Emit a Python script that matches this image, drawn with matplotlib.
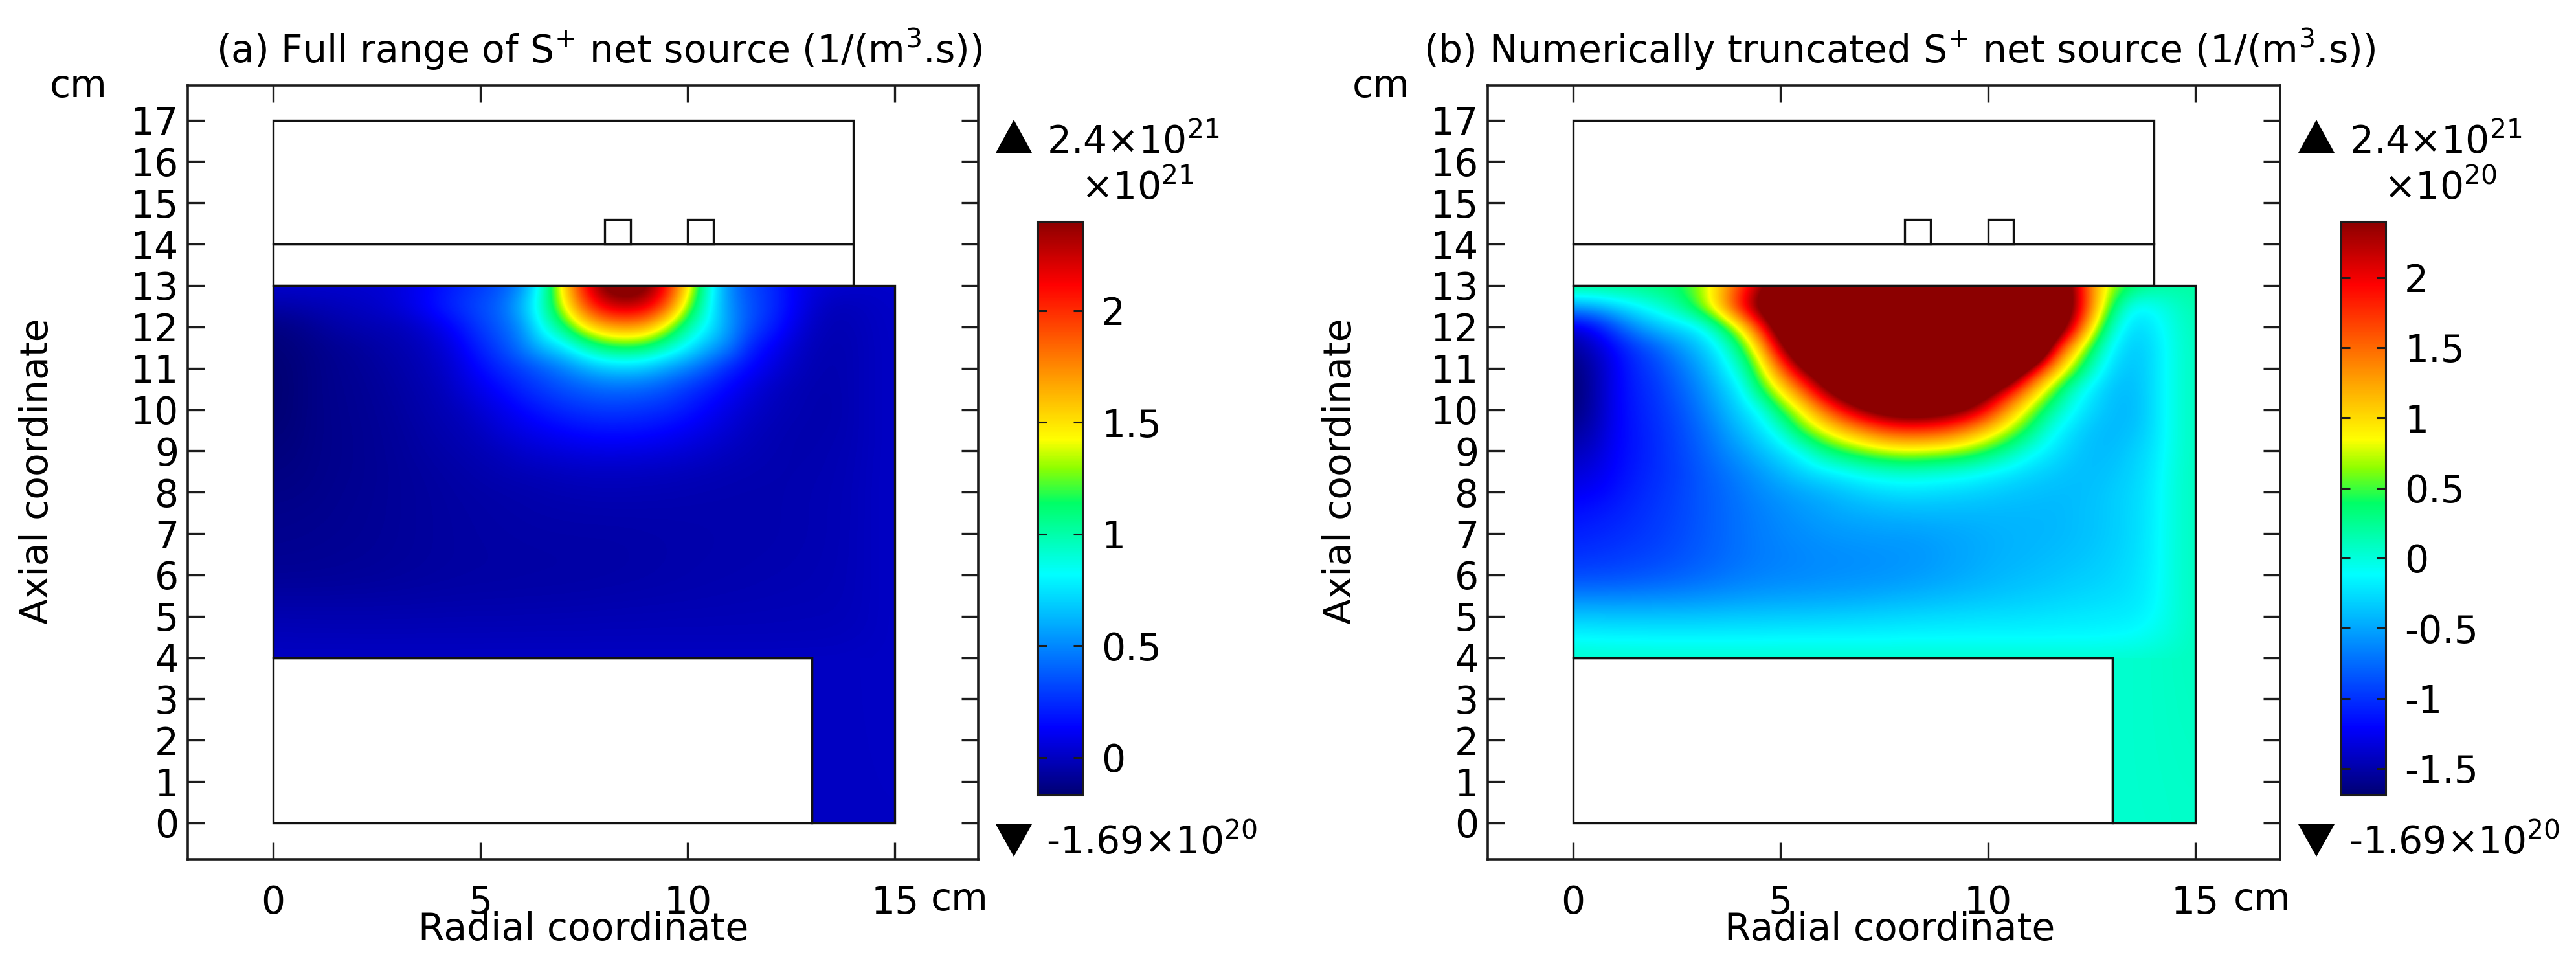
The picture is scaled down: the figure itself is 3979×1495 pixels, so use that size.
import numpy as np
import matplotlib
matplotlib.use("Agg")
import matplotlib.pyplot as plt
from matplotlib.colors import LinearSegmentedColormap, Normalize
from matplotlib.cm import ScalarMappable
from matplotlib.patches import Rectangle, Polygon

W, H = 3979, 1495
plt.rcParams['font.family'] = ['DejaVu Sans']
plt.rcParams['mathtext.default'] = 'regular'
plt.rcParams['mathtext.fontset'] = 'dejavusans'

# Field, units of 1e20 1/(m^3 s).
# Columns: r = 0, 0.5, ... 15 cm. Rows: z = 13, 12.5, ... 4 cm.
r_values = [i * 0.5 for i in range(31)]
z_values = [13 - i * 0.5 for i in range(19)]
z13_0 = [.3,.3,.3,.3,.35,.4,.6,1,1.6,2.2,2.8,3.5,5,9,15,21,25,26,25,21,15,9,5,3.2,2.5,1.3,.7,.4,.25,.2,.2]
z12_5 = [-.5,-.45,-.3,-.15,0,.2,.55,1.1,1.9,2.7,3.4,4.2,6.5,9.5,14,19,22,23,22,19,13,8.5,5.2,3.6,2.6,1.4,.4,-.15,-.1,.05,.15]
z12_0 = [-1.35,-1.2,-.9,-.6,-.4,-.28,-.18,.2,.8,1.7,2.9,3.8,5.2,8.6,11,14.5,16.5,17,16.5,13.5,10,8,5.5,3.4,2.2,.95,.05,-.28,-.2,0,.12]
z11_5 = [-1.55,-1.4,-1.2,-.98,-.82,-.6,-.4,-.16,.3,1.05,2.2,3.2,4.7,6.4,7.5,9.5,11,11.5,11,9.5,7.9,6,4.7,2.2,1.2,.4,-.16,-.35,-.25,-.02,.1]
z11_0 = [-1.65,-1.5,-1.25,-1.05,-.92,-.75,-.55,-.3,.05,.65,1.5,2.35,3,3.8,4.7,5.8,6.6,6.8,6.5,5.6,4.7,3.6,2.2,1.4,.7,.1,-.28,-.38,-.25,-.02,.1]
z10_5 = [-1.69,-1.5,-1.25,-1.08,-.98,-.82,-.65,-.42,-.2,.4,.9,1.5,2.3,2.9,3.4,3.8,4.1,4.1,3.9,3.4,2.7,2,1.3,.65,.1,-.2,-.38,-.4,-.25,-.02,.1]
z10_0 = [-1.65,-1.5,-1.25,-1.1,-1,-.88,-.72,-.52,-.3,-.1,.45,.85,1.4,1.95,2.4,2.7,2.85,2.8,2.65,2.4,1.9,1.25,.7,.25,-.08,-.28,-.4,-.42,-.25,-.02,.1]
z9_5 = [-1.55,-1.45,-1.24,-1.12,-1.02,-.92,-.78,-.62,-.42,-.25,0,.5,.8,1.1,1.35,1.6,1.7,1.7,1.6,1.35,1.05,.7,.35,-.05,-.25,-.38,-.42,-.38,-.25,-.02,.1]
z9_0 = [-1.45,-1.38,-1.22,-1.12,-1.03,-.93,-.82,-.68,-.55,-.4,-.25,-.08,.25,.45,.6,.72,.78,.75,.7,.6,.42,.2,-.05,-.2,-.32,-.4,-.4,-.32,-.22,-.02,.1]
z8_5 = [-1.35,-1.3,-1.2,-1.1,-1.02,-.95,-.85,-.75,-.65,-.55,-.42,-.3,-.2,-.13,-.03,.02,.05,.03,0,-.05,-.13,-.2,-.28,-.33,-.38,-.4,-.36,-.3,-.2,0,.1]
z8_0 = [-1.25,-1.22,-1.15,-1.06,-1,-.93,-.85,-.78,-.7,-.62,-.56,-.5,-.45,-.38,-.32,-.28,-.25,-.26,-.28,-.3,-.33,-.36,-.38,-.4,-.4,-.38,-.33,-.28,-.18,0,.1]
z7_5 = [-1.15,-1.12,-1.08,-1.03,-.97,-.92,-.85,-.78,-.72,-.66,-.61,-.56,-.52,-.48,-.46,-.44,-.43,-.42,-.42,-.42,-.42,-.42,-.42,-.42,-.4,-.37,-.33,-.27,-.18,0,.1]
z7_0 = [-1.08,-1.06,-1.03,-.99,-.95,-.9,-.84,-.78,-.72,-.67,-.63,-.6,-.57,-.55,-.54,-.53,-.53,-.52,-.5,-.48,-.46,-.44,-.43,-.42,-.4,-.37,-.33,-.27,-.17,0,.1]
z6_5 = [-1,-.99,-.97,-.94,-.91,-.87,-.82,-.77,-.72,-.68,-.65,-.63,-.61,-.6,-.59,-.58,-.57,-.55,-.52,-.49,-.46,-.44,-.42,-.4,-.38,-.35,-.31,-.26,-.17,0,.1]
z6_0 = [-.9,-.89,-.88,-.86,-.83,-.8,-.76,-.72,-.68,-.65,-.63,-.62,-.6,-.59,-.58,-.57,-.55,-.53,-.5,-.47,-.44,-.41,-.39,-.37,-.34,-.32,-.29,-.24,-.16,0,.1]
z5_5 = [-.65,-.65,-.65,-.64,-.63,-.62,-.6,-.58,-.56,-.54,-.53,-.52,-.51,-.5,-.49,-.47,-.45,-.43,-.41,-.39,-.37,-.35,-.33,-.31,-.29,-.27,-.25,-.22,-.15,0,.1]
z5_0 = [-.35,-.35,-.36,-.36,-.36,-.36,-.36,-.35,-.34,-.34,-.33,-.33,-.32,-.31,-.3,-.29,-.28,-.27,-.26,-.25,-.24,-.24,-.23,-.22,-.21,-.2,-.19,-.18,-.12,0,.1]
z4_5 = [-.12,-.13,-.14,-.14,-.15,-.15,-.15,-.15,-.15,-.15,-.14,-.14,-.14,-.14,-.14,-.14,-.13,-.13,-.13,-.13,-.13,-.13,-.13,-.13,-.13,-.13,-.12,-.1,-.05,.02,.1]
z4_0 = [.05,.05,.05,.05,.05,.05,.05,.05,.05,.05,.05,.05,.05,.05,.05,.05,.05,.05,.05,.05,.05,.05,.05,.05,.05,.05,.05,.05,.06,.08,.1]
main_rows = [z13_0, z12_5, z12_0, z11_5, z11_0, z10_5, z10_0, z9_5, z9_0, z8_5, z8_0,
             z7_5, z7_0, z6_5, z6_0, z5_5, z5_0, z4_5, z4_0]
# Annular leg below z = 4: r = 13 ... 15, z = 4, 2, 0
leg_rows = [[.05,.05,.06,.08,.1], [.05,.05,.06,.07,.08], [.05,.05,.05,.06,.06]]

panel_titles = ['(a) Full range of S$^{+}$ net source (1/(m$^{3}$.s))',
                '(b) Numerically truncated S$^{+}$ net source (1/(m$^{3}$.s))']
range_max = [24.0, 24.0]        # 1e20
range_min = [-1.69, -1.69]      # 1e20
color_max = [24.0, 2.4]
color_min = [-1.69, -1.69]
cbar_scale = ['$\\times$10$^{21}$', '$\\times$10$^{20}$']
cbar_unit = [10.0, 1.0]
cbar_ticks = [[0, .5, 1, 1.5, 2], [-1.5, -1, -.5, 0, .5, 1, 1.5, 2]]
cbar_labels = [['0', '0.5', '1', '1.5', '2'], ['-1.5', '-1', '-0.5', '0', '0.5', '1', '1.5', '2']]
x_ticks = [0, 5, 10, 15]
y_ticks = list(range(18))

# Geometry, cm
box_upper = (0, 14, 14, 3)
box_middle = (0, 13, 14, 1)
box_lower = (0, 0, 13, 4)
coils = [(8.0, 14, 0.62, 0.6), (10.0, 14, 0.62, 0.6)]
outline = [(0, 4), (13, 4), (13, 0), (15, 0), (15, 13), (0, 13)]

rainbow = LinearSegmentedColormap.from_list('rainbow_like', [
    (0.00, (0, 0, .45)), (.117, (0, 0, 1)), (.385, (0, 1, 1)), (.51, (0, 1, .4)),
    (.57, (.55, 1, 0)), (.62, (1, 1, 0)), (.73, (1, .6, 0)), (.89, (1, 0, 0)),
    (1.0, (.55, 0, 0))], N=512)

FS = 42
DARK = '#1c1c1c'
LW = 2.6
fig = plt.figure(figsize=(W / 100, H / 100), dpi=100, facecolor='white')


def fx(p):
    return p / W


def fy(p):
    return 1 - p / H


def box(l, t, r, b):
    return [l / W, 1 - b / H, (r - l) / W, (b - t) / H]


main = np.array(main_rows)
leg = np.array(leg_rows)
panels = [
    dict(ax=(290, 132, 1511, 1327), cb=(1603, 342, 1672, 1228), off=0, title_x=926),
    dict(ax=(2298, 132, 3522, 1327), cb=(3616, 342, 3685, 1228), off=2012, title_x=2934),
]

for i, p in enumerate(panels):
    ax = fig.add_axes(box(*p['ax']))
    l, t, r, b = p['ax']
    x0 = l + 131.7 if i == 0 else 2430
    ax.set_xlim((l - x0) / 64.05, (r - x0) / 64.05)
    ax.set_ylim((1271 - b) / 63.85, (1271 - t) / 63.85)
    ax.set_aspect('auto')
    norm = Normalize(color_min[i], color_max[i])
    dr, dz = 0.25, 0.25
    im = ax.imshow(main, cmap=rainbow, norm=norm, interpolation='bicubic', aspect='auto',
                   extent=(r_values[0] - dr, r_values[-1] + dr, z_values[-1] - dz, z_values[0] + dz))
    im.set_clip_path(Rectangle((0, 4), 15, 9, transform=ax.transData))
    im2 = ax.imshow(leg, cmap=rainbow, norm=norm, interpolation='bicubic', aspect='auto',
                    extent=(12.75, 15.25, -1, 5))
    im2.set_clip_path(Rectangle((13, 0), 2, 4, transform=ax.transData))
    ax.set_xlim((l - x0) / 64.05, (r - x0) / 64.05)
    ax.set_ylim((1271 - b) / 63.85, (1271 - t) / 63.85)

    ax.add_patch(Polygon(outline, closed=True, fill=False, ec='#111111', lw=2.4, zorder=3))
    for rect in [box_upper, box_middle, box_lower] + coils:
        ax.add_patch(Rectangle(rect[:2], rect[2], rect[3], fill=False, ec='#111111', lw=2.4, zorder=3))

    for s in ax.spines.values():
        s.set_linewidth(LW)
        s.set_color(DARK)
    ax.set_xticks(x_ticks)
    ax.set_yticks(y_ticks)
    ax.tick_params(axis='both', which='major', direction='in', length=19, width=2.4, color=DARK,
                   top=True, right=True, labelsize=FS)
    ax.tick_params(axis='x', pad=28)
    ax.tick_params(axis='y', pad=10)

    off = p['off']
    fig.text(fx(p['title_x']), fy(97), panel_titles[i], ha='center', va='baseline', fontsize=FS)
    fig.text(fx(121 + off), fy(150), 'cm', ha='center', va='baseline', fontsize=FS)
    fig.text(fx(1482 + off), fy(1406), 'cm', ha='center', va='baseline', fontsize=FS)
    fig.text(fx(901 + off + (6 if i else 0)), fy(1452), 'Radial coordinate', ha='center', va='baseline', fontsize=FS)
    fig.text(fx(58 + off), fy(728), 'Axial coordinate', rotation=90, ha='center', va='center', fontsize=FS)

    cax = fig.add_axes(box(*p['cb']))
    sm = ScalarMappable(norm=Normalize(color_min[i] / cbar_unit[i], color_max[i] / cbar_unit[i]), cmap=rainbow)
    cb = fig.colorbar(sm, cax=cax)
    cb.set_ticks(cbar_ticks[i], labels=cbar_labels[i])
    cb.outline.set_linewidth(2.2)
    cb.outline.set_edgecolor(DARK)
    cax.tick_params(direction='in', length=10, width=2.2, color=DARK, left=True, right=True,
                    labelsize=FS, pad=21)

    # Range markers
    c = 1566 + off
    fig.add_artist(Polygon([(fx(c - 28), fy(236)), (fx(c + 28), fy(236)), (fx(c), fy(185))],
                           closed=True, fc='black', ec='none', transform=fig.transFigure))
    fig.add_artist(Polygon([(fx(c - 28), fy(1273)), (fx(c + 28), fy(1273)), (fx(c), fy(1323))],
                           closed=True, fc='black', ec='none', transform=fig.transFigure))
    fig.text(fx(1617 + off), fy(237), '%.1f$\\times$10$^{21}$' % (range_max[i] / 10), ha='left', va='baseline', fontsize=FS)
    fig.text(fx(1670 + off), fy(308), cbar_scale[i], ha='left', va='baseline', fontsize=FS)
    fig.text(fx(1616 + off), fy(1319), '%.2f$\\times$10$^{20}$' % range_min[i], ha='left', va='baseline', fontsize=FS)

fig.savefig('out.png', dpi=100, facecolor='white')
